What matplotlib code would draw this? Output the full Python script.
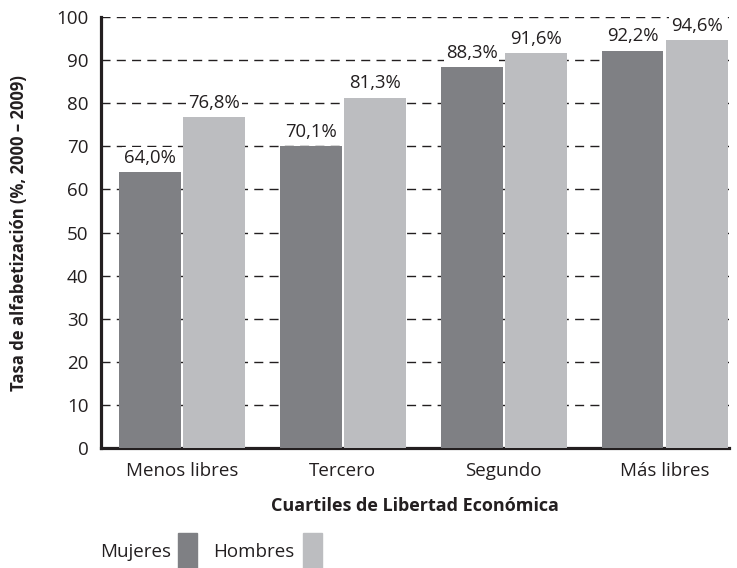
import numpy as np
import matplotlib
matplotlib.use('Agg')
import matplotlib.pyplot as plt
from matplotlib.patches import Rectangle

categories = ['Menos libres', 'Tercero', 'Segundo', 'Más libres']
mujeres = [64.0, 70.1, 88.3, 92.2]
hombres = [76.8, 81.3, 91.6, 94.6]
yticks = [0, 10, 20, 30, 40, 50, 60, 70, 80, 90, 100]

c_muj = '#7f8084'
c_hom = '#bcbdc0'
c_txt = '#231f20'

plt.rcParams['font.family'] = ['Open Sans', 'DejaVu Sans']

fig = plt.figure(figsize=(7.37, 5.68), dpi=100)
ax = fig.add_axes([0.137, 0.211, 0.852, 0.759])

x = np.arange(len(categories))
w = 0.385
off = 0.199
b1 = ax.bar(x - off, mujeres, w, color=c_muj, zorder=3)
b2 = ax.bar(x + off, hombres, w, color=c_hom, zorder=3)

# value labels sit on a white box so the dashed grid breaks around them
for bars, vals in ((b1, mujeres), (b2, hombres)):
    for b, v in zip(bars, vals):
        ax.text(b.get_x() + b.get_width() / 2, v + 1.2, f'{v:.1f}%'.replace('.', ','),
                ha='center', va='bottom', fontsize=13.3, color=c_txt, zorder=4,
                bbox=dict(boxstyle='square,pad=0.1', fc='white', ec='none'))

ax.set_xlim(-0.503, 3.4)
ax.set_ylim(0, 100)
ax.set_yticks(yticks)
ax.set_xticks(x)
ax.set_xticklabels(categories)
ax.tick_params(axis='both', length=0, labelsize=13.5, colors=c_txt)
ax.tick_params(axis='y', pad=9)
ax.tick_params(axis='x', pad=10)

for y in yticks[1:]:
    ax.axhline(y, color=c_txt, lw=1.0, ls=(0, (6.5, 4.5)), zorder=1)

for s in ['top', 'right']:
    ax.spines[s].set_visible(False)
for s in ['left', 'bottom']:
    ax.spines[s].set_linewidth(2.3)
    ax.spines[s].set_color(c_txt)

ax.set_xlabel('Cuartiles de Libertad Económica', fontsize=13, fontweight='bold',
              color=c_txt, labelpad=12)
ax.set_ylabel('Tasa de alfabetización (%, 2000 – 2009)', fontsize=12,
              fontweight='bold', color=c_txt, labelpad=20)

# legend at the bottom left
fig.text(100 / 737, 1 - 552 / 568, 'Mujeres', fontsize=13.5, va='center', color=c_txt)
fig.add_artist(Rectangle((178 / 737, 0), 19 / 737, 35 / 568, transform=fig.transFigure,
                         color=c_muj))
fig.text(213 / 737, 1 - 552 / 568, 'Hombres', fontsize=13.5, va='center', color=c_txt)
fig.add_artist(Rectangle((303 / 737, 0), 19 / 737, 35 / 568, transform=fig.transFigure,
                         color=c_hom))

fig.savefig('out.png', dpi=100)
